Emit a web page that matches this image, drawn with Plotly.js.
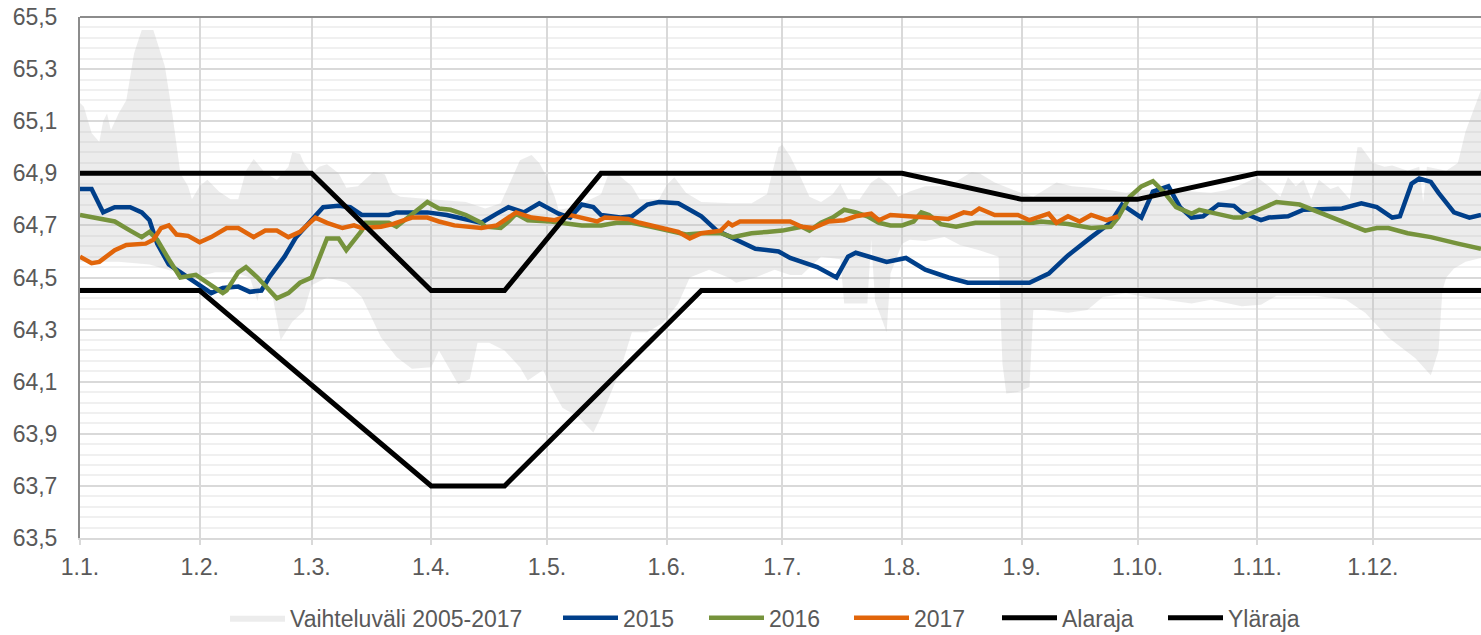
<!DOCTYPE html>
<html>
<head>
<meta charset="utf-8">
<script src="https://cdn.plot.ly/plotly-3.0.1.min.js"></script>
<style>
  html, body { margin: 0; padding: 0; background: #ffffff; }
  #chart { width: 1481px; height: 635px; }
</style>
</head>
<body>
<div id="chart"></div>
<script>
// Day of year (0 = 1.1.) and water level values
const monthStarts = [0, 31, 60, 91, 121, 152, 182, 213, 244, 274, 305, 335];
const monthLabels = ['1.1.', '1.2.', '1.3.', '1.4.', '1.5.', '1.6.', '1.7.', '1.8.', '1.9.', '1.10.', '1.11.', '1.12.'];
const yTickVals = [63.5, 63.7, 63.9, 64.1, 64.3, 64.5, 64.7, 64.9, 65.1, 65.3, 65.5];

const bandMaxDays = [0,1,3,5,6,7,8,10,12,14,16,19,22,24,26,28,29,31,33,36,39,41,43,45,48,51,54,55,57,58,60,62,64,67,69,72,76,79,81,83,91,100,105,109,111,114,117,119,121,123,124,128,135,137,139,143,145,150,152,154,157,161,169,174,178,181,182,184,187,189,192,195,197,199,202,205,207,210,212,215,219,225,231,233,237,242,247,253,257,262,267,271,275,282,288,293,297,300,305,308,311,313,315,317,319,321,324,326,329,331,332,335,338,340,344,347,348,349,354,357,359,361,363];
const bandMax = [65.17,65.155,65.055,65.02,65.10,65.13,65.065,65.13,65.18,65.36,65.45,65.45,65.31,65.12,64.90,64.85,64.80,64.85,64.875,64.83,64.80,64.80,64.91,64.955,64.90,64.875,64.925,64.98,64.975,64.94,64.90,64.925,64.935,64.90,64.845,64.85,64.905,64.895,64.825,64.81,64.80,64.79,64.765,64.785,64.85,64.95,64.97,64.94,64.885,64.81,64.76,64.77,64.82,64.90,64.90,64.85,64.80,64.80,64.855,64.885,64.825,64.79,64.785,64.785,64.82,65.00,65.01,64.965,64.875,64.81,64.79,64.82,64.86,64.80,64.80,64.865,64.885,64.85,64.81,64.83,64.85,64.85,64.905,64.90,64.865,64.835,64.81,64.865,64.85,64.845,64.835,64.825,64.835,64.84,64.83,64.825,64.835,64.85,64.885,64.85,64.81,64.885,64.85,64.875,64.80,64.875,64.84,64.85,64.80,65.00,65.00,64.94,64.925,64.93,64.91,64.925,64.79,64.925,64.91,64.94,65.06,65.14,65.22];

const bandMinDays = [0,10,18,25,30,35,40,44,46,47,50,52,55,58,60,64,69,73,78,82,86,91,93,95,98,101,103,106,110,114,116,120,122,125,129,133,135,140,143,147,151,155,158,163,168,170,175,180,184,187,192,197,198,204,205,206,209,210,213,215,219,224,228,233,238,239,240,243,246,247,250,256,261,265,271,276,281,288,293,301,306,310,320,328,333,339,346,350,352,353,354,356,359,363];
const bandMin = [64.56,64.56,64.55,64.52,64.50,64.52,64.52,64.50,64.41,64.50,64.42,64.26,64.33,64.37,64.47,64.50,64.48,64.425,64.27,64.195,64.15,64.155,64.22,64.17,64.09,64.11,64.25,64.25,64.22,64.155,64.105,64.145,64.08,64.00,63.965,63.905,63.965,64.145,64.29,64.29,64.325,64.40,64.50,64.53,64.50,64.48,64.50,64.53,64.51,64.51,64.58,64.57,64.40,64.40,64.645,64.41,64.29,64.515,64.63,64.645,64.64,64.655,64.625,64.605,64.58,64.17,64.055,64.06,64.08,64.375,64.375,64.365,64.375,64.425,64.44,64.425,64.415,64.40,64.415,64.39,64.395,64.43,64.43,64.415,64.365,64.27,64.19,64.125,64.22,64.45,64.50,64.535,64.56,64.575];

const days2015 = [0,3,6,9,13,16,18,20,23,26,30,34,37,41,44,47,49,53,56,60,63,67,70,73,80,82,90,95,98,104,108,111,115,119,124,127,130,133,135,140,143,147,150,155,158,161,165,170,175,181,184,191,196,199,201,209,214,219,225,230,246,251,256,262,267,270,275,278,282,285,288,291,295,299,301,306,308,313,317,327,332,336,340,342,345,347,350,352,356,360,363];
const level2015 = [64.84,64.84,64.75,64.77,64.77,64.75,64.72,64.63,64.55,64.52,64.48,64.44,64.46,64.465,64.445,64.45,64.50,64.58,64.655,64.72,64.77,64.775,64.77,64.74,64.74,64.75,64.75,64.74,64.73,64.71,64.745,64.77,64.75,64.785,64.745,64.73,64.78,64.77,64.74,64.73,64.735,64.78,64.79,64.785,64.76,64.735,64.68,64.645,64.61,64.60,64.575,64.54,64.50,64.58,64.595,64.56,64.575,64.53,64.50,64.48,64.48,64.515,64.585,64.655,64.71,64.78,64.73,64.83,64.85,64.77,64.73,64.735,64.78,64.775,64.75,64.72,64.73,64.735,64.76,64.765,64.785,64.77,64.73,64.735,64.86,64.88,64.867,64.825,64.75,64.73,64.74];

const days2016 = [0,4,9,13,16,18,20,23,26,30,33,37,38,41,43,46,51,54,57,60,64,67,69,73,74,80,82,86,90,93,96,100,104,105,109,111,113,116,122,130,135,139,143,148,154,157,161,166,169,174,178,182,187,189,192,195,198,201,204,207,210,213,216,218,220,223,227,232,247,249,256,258,262,267,269,272,275,278,281,284,288,290,295,299,301,306,310,316,321,326,333,336,339,344,350,357,363];
const level2016 = [64.74,64.73,64.715,64.68,64.655,64.675,64.645,64.57,64.50,64.51,64.48,64.44,64.45,64.52,64.54,64.50,64.42,64.44,64.48,64.50,64.65,64.65,64.605,64.68,64.71,64.71,64.695,64.74,64.79,64.765,64.76,64.74,64.71,64.695,64.69,64.715,64.745,64.72,64.715,64.70,64.70,64.71,64.71,64.695,64.675,64.665,64.67,64.67,64.655,64.67,64.675,64.68,64.695,64.68,64.71,64.73,64.76,64.75,64.735,64.71,64.70,64.70,64.715,64.75,64.74,64.705,64.695,64.71,64.71,64.715,64.705,64.70,64.69,64.695,64.73,64.81,64.85,64.87,64.825,64.77,64.745,64.76,64.745,64.73,64.73,64.765,64.79,64.78,64.75,64.72,64.68,64.69,64.69,64.67,64.655,64.63,64.61];

const days2017 = [0,3,5,9,12,17,19,21,23,25,28,31,34,38,41,45,48,51,54,57,61,64,68,71,73,78,81,86,90,93,97,104,108,113,117,123,127,130,134,136,142,145,149,155,158,161,166,168,169,171,184,187,190,194,198,201,205,207,210,215,221,225,229,231,233,237,243,246,251,253,256,259,262,266,269];
const level2017 = [64.58,64.555,64.56,64.605,64.625,64.63,64.645,64.69,64.70,64.665,64.66,64.635,64.655,64.69,64.69,64.655,64.68,64.68,64.655,64.675,64.73,64.71,64.69,64.70,64.69,64.695,64.705,64.73,64.73,64.715,64.70,64.69,64.70,64.75,64.73,64.72,64.74,64.73,64.715,64.73,64.725,64.71,64.695,64.675,64.65,64.67,64.68,64.71,64.70,64.715,64.715,64.695,64.69,64.715,64.72,64.735,64.745,64.72,64.74,64.735,64.725,64.725,64.75,64.745,64.765,64.74,64.74,64.72,64.745,64.71,64.735,64.715,64.74,64.72,64.735];

const alarajaDays = [0, 31, 91, 110, 161, 366];
const alaraja = [64.45, 64.45, 63.70, 63.70, 64.45, 64.45];
const ylarajaDays = [0, 60, 91, 110, 135, 213, 244, 274, 305, 366];
const ylaraja = [64.90, 64.90, 64.45, 64.45, 64.90, 64.90, 64.80, 64.80, 64.90, 64.90];

const bandX = bandMaxDays.concat(bandMinDays.slice().reverse());
const bandY = bandMax.concat(bandMin.slice().reverse());

const traces = [
  { x: bandX, y: bandY, type: 'scatter', mode: 'lines', fill: 'toself',
    fillcolor: 'rgba(191,191,191,0.3)', line: { width: 0, color: 'rgba(0,0,0,0)' },
    name: 'Vaihteluväli 2005-2017', hoverinfo: 'skip', legend: 'legend' },
  { x: days2015, y: level2015, type: 'scatter', mode: 'lines', name: '2015',
    line: { color: '#003F8A', width: 4.5 }, legend: 'legend2' },
  { x: days2016, y: level2016, type: 'scatter', mode: 'lines', name: '2016',
    line: { color: '#76933C', width: 4.5 }, legend: 'legend3' },
  { x: days2017, y: level2017, type: 'scatter', mode: 'lines', name: '2017',
    line: { color: '#E1650A', width: 4.5 }, legend: 'legend4' },
  { x: alarajaDays, y: alaraja, type: 'scatter', mode: 'lines', name: 'Alaraja',
    line: { color: '#000000', width: 5 }, legend: 'legend5' },
  { x: ylarajaDays, y: ylaraja, type: 'scatter', mode: 'lines', name: 'Yläraja',
    line: { color: '#000000', width: 5 }, legend: 'legend6' }
];

function legendAt(px) {
  return {
    orientation: 'h', xref: 'container', yref: 'container',
    x: px / 1481, xanchor: 'left', y: 0.027, yanchor: 'middle',
    itemwidth: 55, font: { size: 23, color: '#595959' },
    bgcolor: 'rgba(0,0,0,0)', borderwidth: 0
  };
}

const layout = {
  width: 1481, height: 635,
  margin: { l: 80, r: 0, t: 17, b: 97, pad: 0 },
  paper_bgcolor: '#ffffff', plot_bgcolor: '#ffffff',
  separators: ', ',
  font: { family: 'Liberation Sans, Arial, sans-serif', size: 23, color: '#595959' },
  showlegend: true,
  legend: legendAt(225),
  legend2: legendAt(558),
  legend3: legendAt(704),
  legend4: legendAt(849),
  legend5: legendAt(997),
  legend6: legendAt(1163),
  xaxis: {
    range: [0, 363], tickmode: 'array', tickvals: monthStarts, ticktext: monthLabels,
    showgrid: true, gridcolor: '#D9D9D9', gridwidth: 2,
    showline: true, linecolor: '#D9D9D9', linewidth: 2,
    ticks: 'outside', ticklen: 5, tickwidth: 2, tickcolor: '#D9D9D9',
    ticklabelstandoff: 2, zeroline: false, fixedrange: true
  },
  yaxis: {
    range: [63.5, 65.5], tickmode: 'array', tickvals: yTickVals, tickformat: '.1f',
    showgrid: true, gridcolor: '#D9D9D9', gridwidth: 2,
    minor: { dtick: 0.04, tick0: 63.5, showgrid: true, gridcolor: '#F0F0F0', gridwidth: 2, ticks: '' },
    showline: true, linecolor: '#8C8C8C', linewidth: 2,
    ticks: '', ticklabelstandoff: 16, zeroline: false, fixedrange: true
  },
  shapes: [
    { type: 'line', xref: 'paper', yref: 'paper', x0: 0, x1: 1, y0: 1, y1: 1,
      line: { color: '#8C8C8C', width: 2 } }
  ]
};

Plotly.newPlot('chart', traces, layout, { displayModeBar: false, staticPlot: true });
</script>
</body>
</html>
